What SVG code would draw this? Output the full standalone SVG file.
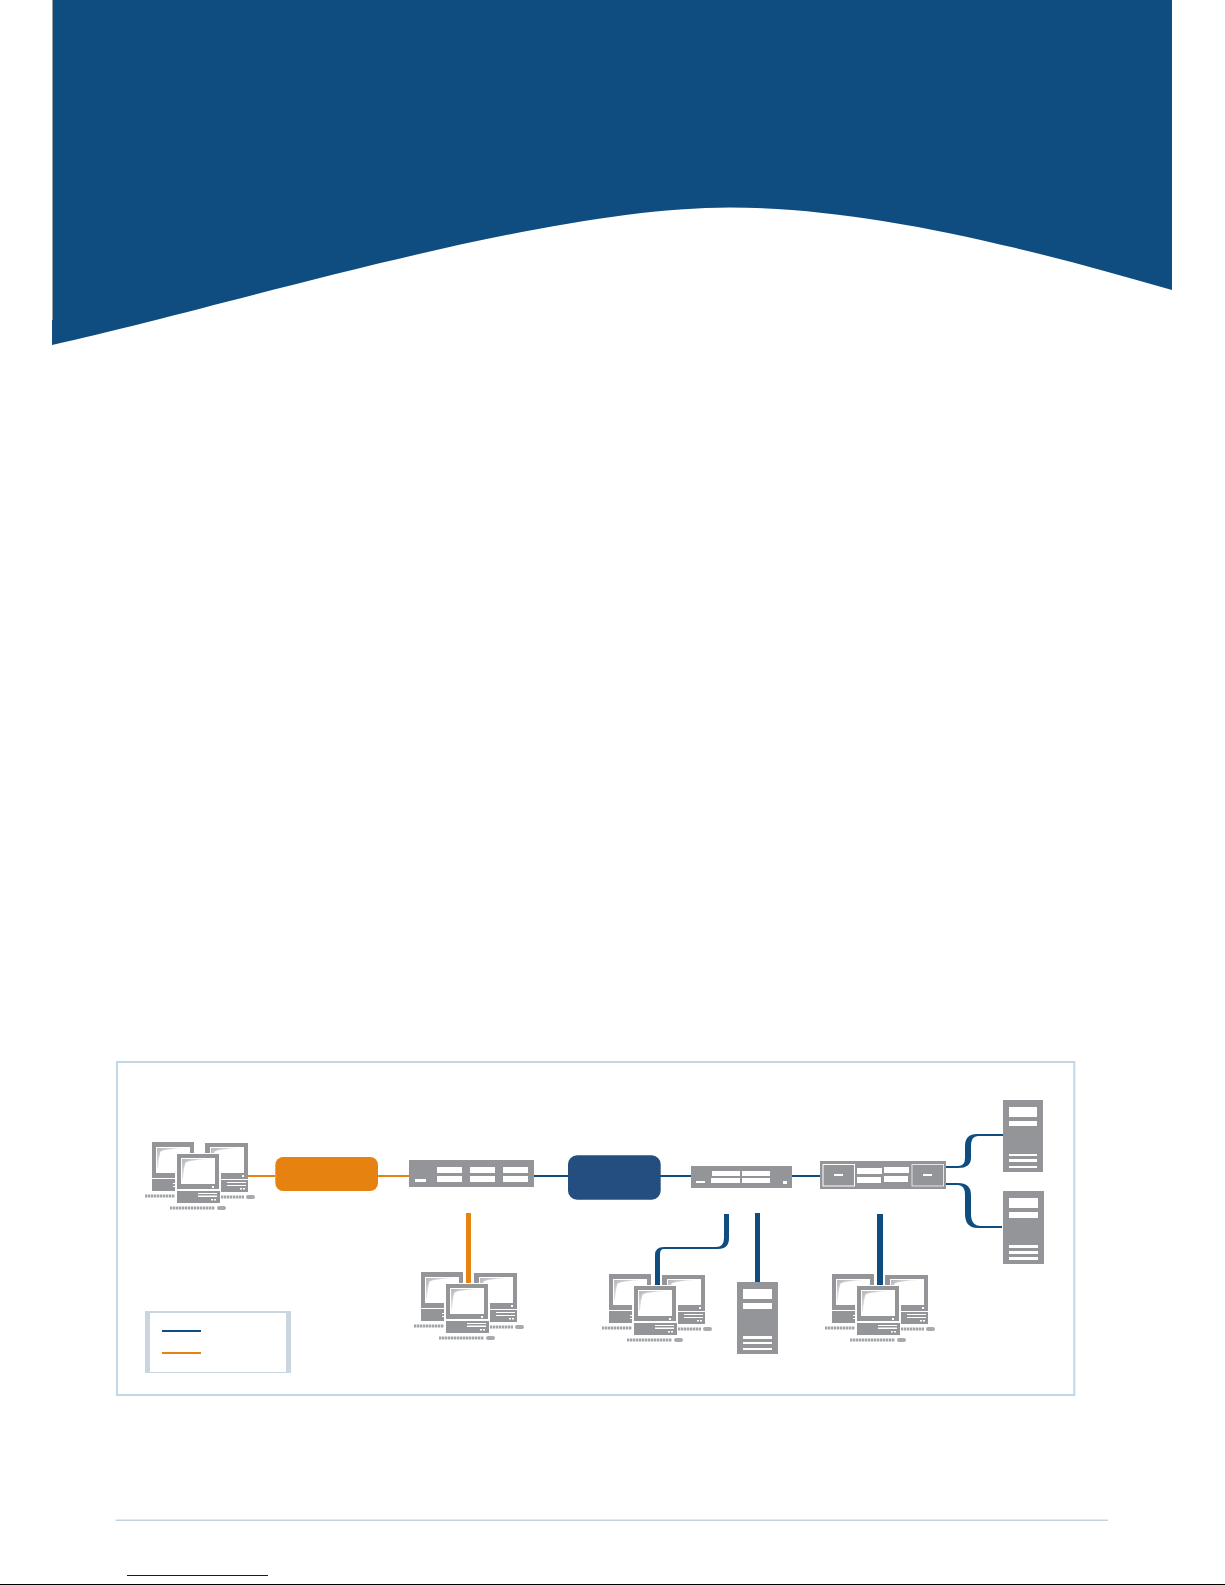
<svg xmlns="http://www.w3.org/2000/svg" width="1225" height="1585" viewBox="0 0 1225 1585">
<style>
.g{fill:#939598}
.w{fill:#fff}
.b{fill:#0f4d81}
.o{fill:#e58210}
.bl{stroke:#0f4d81;stroke-width:2;fill:none}
.ol{stroke:#e58210;stroke-width:2;fill:none}
.kb{stroke:#a2a4a6;stroke-width:3.2;stroke-dasharray:2.4 .6;fill:none}
.ms{fill:#a8aaac}
</style>
<defs>
<linearGradient id="sheen" x1="0" y1="0" x2="1" y2="1">
<stop offset="0" stop-color="#b4b6b8"/><stop offset="0.75" stop-color="#fff"/>
</linearGradient>
<g id="screen">
<rect class="w" width="34" height="26"/>
<path d="M1 1H29Q9 2 4.500 4.500Q2.500 11 2 21H1Z" fill="url(#sheen)"/>
</g>
<g id="pcs">
<rect class="g" x="-25" y="-12" width="42" height="36"/>
<use href="#screen" x="-21" y="-7"/>
<rect class="g" x="-25" y="25" width="23" height="12"/>
<rect class="w" x="-4" y="29" width="3" height="1"/><rect class="w" x="-4" y="32" width="3" height="1"/>
<path class="kb" d="M-32 42H-2"/>
<rect class="g" x="28" y="-11" width="43" height="36"/>
<use href="#screen" x="33" y="-7"/>
<rect class="w" x="65" y="21" width="2" height="2"/>
<rect class="g" x="44" y="26" width="27" height="12"/>
<rect class="w" x="50" y="28" width="19" height="1"/><rect class="w" x="50" y="31" width="19" height="1"/>
<rect class="w" x="63" y="34" width="2" height="1.500"/><rect class="w" x="66" y="34" width="2" height="1.500"/>
<path class="kb" d="M44 43H67"/>
<rect class="ms" x="69" y="41" width="9" height="4" rx="2"/>
<rect class="w" x="-2" y="-1" width="46" height="52"/>
<rect class="g" width="42" height="35"/>
<use href="#screen" x="4" y="4"/>
<rect class="w" x="35" y="32" width="2" height="2"/>
<rect class="g" y="37" width="43" height="12"/>
<rect class="w" x="21" y="39" width="19" height="1"/><rect class="w" x="21" y="41.500" width="19" height="1.500"/>
<rect class="w" x="34" y="45" width="2" height="1.500"/><rect class="w" x="37" y="45" width="2" height="1.500"/>
<path class="kb" d="M-7 54H38"/>
<rect class="ms" x="40" y="52" width="9" height="4" rx="2"/>
</g>
</defs>

<g id="banner">
<path class="b" d="M52 0H1172V290C1010 243 860 207.500 730 207.500C540 207.500 230 306 52 345Z"/>
<rect x="52" y="0" width="0.800" height="320" fill="#b9b3a2"/>
</g>

<g id="frame"><rect x="117" y="1062" width="957.300" height="333" fill="none" stroke="#bfd7e6" stroke-width="2"/></g>

<g id="connectors">
<path class="ol" d="M248 1176H275M378 1176H409"/>
<rect class="o" x="466" y="1213" width="5" height="72"/>
<path class="bl" d="M534 1176H568M660 1176H691M792 1176H820"/>
<path class="b" d="M724 1214H729V1238Q729 1249 718 1249H664Q660 1249 660 1254V1286H655V1255Q655 1247 664 1247H716Q724 1247 724 1238Z"/>
<rect class="b" x="755" y="1213" width="5" height="70"/>
<rect class="b" x="877" y="1214" width="6" height="72"/>
<path class="b" d="M946 1166H958Q965 1166 965 1158V1146Q965 1134 977 1134H1003V1136H978Q971 1136 971 1146V1158Q971 1168 958 1168H946Z"/>
<path class="b" d="M946 1183H958Q971 1183 971 1195V1214Q971 1226 981 1226H1002V1228H978Q965 1228 965 1214V1195Q965 1185 958 1185H946Z"/>
</g>

<g id="pcs-1"><use href="#pcs" x="177" y="1154"/></g>
<g id="router-orange"><rect class="o" x="275.300" y="1157" width="102.700" height="34" rx="8"/></g>
<g id="switch-1">
<rect class="g" x="409" y="1160" width="125" height="27"/>
<path class="w" d="M437 1167h25v6h-25zM470 1167h25v6h-25zM503 1167h25v6h-25zM437 1176h25v6h-25zM470 1176h25v6h-25zM503 1176h25v6h-25zM415 1179h11v3h-11z"/>
</g>
<g id="router-blue"><rect x="568" y="1155.300" width="92.700" height="44.400" rx="9" fill="#254e80"/></g>
<g id="switch-2">
<rect class="g" x="691" y="1166" width="101" height="22"/>
<path class="w" d="M712 1171h28v5h-28zM742 1171h28v5h-28zM711 1178h29v5h-29zM742 1178h28v5h-28zM696 1181h9v2h-9zM783 1181h4v3h-4z"/>
</g>
<g id="switch-3">
<rect class="g" x="820" y="1161" width="126" height="28"/>
<rect x="823" y="1164.500" width="31.500" height="21.500" fill="none" stroke="#fff"/>
<rect x="912" y="1164.500" width="31.500" height="21.500" fill="none" stroke="#e4e5e6"/>
<path class="w" d="M834 1174h9v2h-9zM923 1174h9v2h-9zM857 1168h25v6h-25zM857 1177h24v6h-24zM884 1167h25v6h-25zM884 1176h24v6h-24z"/>
</g>
<g id="server-1">
<rect class="g" x="1003" y="1100" width="40" height="72"/>
<path class="w" d="M1009 1107h28v10h-28zM1009 1121h28v5h-28zM1009 1154h28v2h-28zM1009 1159h28v3h-28zM1009 1166h28v2h-28z"/>
</g>
<g id="server-2">
<rect class="g" x="1003" y="1191" width="41" height="73"/>
<path class="w" d="M1009 1198h29v10h-29zM1009 1212h29v6h-29zM1009 1245h29v3h-29zM1009 1251h29v3h-29zM1009 1257h29v3h-29z"/>
</g>
<g id="pcs-2"><use href="#pcs" x="446" y="1284"/></g>
<g id="pcs-3"><use href="#pcs" x="634" y="1286"/></g>
<g id="server-3">
<rect class="g" x="737" y="1282" width="41" height="72"/>
<path class="w" d="M743 1289h29v10h-29zM743 1303h29v6h-29zM743 1336h29v3h-29zM743 1342h29v2h-29zM743 1348h29v2h-29z"/>
</g>
<g id="pcs-4"><use href="#pcs" x="857" y="1286"/></g>

<g id="legend">
<rect x="145" y="1311" width="146" height="62" fill="#cbd5e0"/>
<rect class="w" x="150" y="1313" width="136" height="59"/>
<rect class="b" x="162" y="1330" width="39" height="2"/>
<rect class="o" x="162" y="1352" width="39" height="2"/>
</g>

<g id="footer">
<rect x="115.600" y="1519.600" width="992.400" height="1.200" fill="#b8cad8"/>
<rect x="127" y="1575" width="141" height="1" fill="#0000ee"/>
<rect x="0" y="1584" width="1225" height="1" fill="#000"/>
</g>
</svg>
